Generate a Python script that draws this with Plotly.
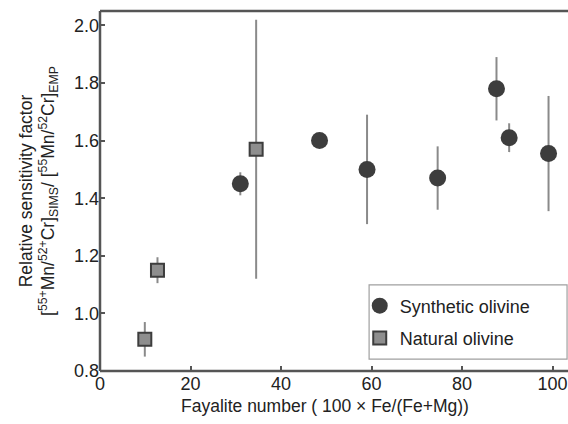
import plotly.graph_objects as go

# Synthetic olivine
syn_x = [31.0, 48.5, 59.0, 74.6, 87.6, 90.4, 99.1]
syn_y = [1.45, 1.60, 1.50, 1.47, 1.78, 1.61, 1.555]
syn_err = [0.04, 0.0, 0.19, 0.11, 0.11, 0.05, 0.20]

# Natural olivine
nat_x = [9.9, 12.7, 34.5]
nat_y = [0.91, 1.15, 1.57]
nat_err = [0.06, 0.045, 0.45]

x_ticks = [0, 20, 40, 60, 80, 100]
y_ticks = [0.8, 1.0, 1.2, 1.4, 1.6, 1.8, 2.0]

FONT = "Liberation Sans, Arial, Helvetica, sans-serif"
AX = "#555555"

fig = go.Figure()
fig.add_trace(go.Scatter(
    x=syn_x, y=syn_y, mode="markers", name="Synthetic olivine",
    legendgroup="a",
    marker=dict(symbol="circle", size=17, color="#3d3d3d", line=dict(width=0)),
    error_y=dict(type="data", array=syn_err, visible=True, color="#8a8a8a",
                 thickness=2, width=0),
))
fig.add_trace(go.Scatter(
    x=nat_x, y=nat_y, mode="markers", name="Natural olivine",
    legendgroup="b",
    marker=dict(symbol="square", size=13, color="#8e8e8e",
                line=dict(width=2, color="#3d3d3d")),
    error_y=dict(type="data", array=nat_err, visible=True, color="#8a8a8a",
                 thickness=2, width=0),
))

# mask for the cut-off right edge of the frame
fig.add_shape(type="rect", xref="paper", yref="paper",
              x0=0.993, x1=1.0, y0=0.25, y1=0.993,
              line=dict(width=0), fillcolor="white", layer="above")

# frame: left, bottom, top (the right side is cut off in the reference)
for x0, y0, x1, y1 in [(0, 0, 0, 1), (0, 0, 1, 0), (0, 1, 1, 1)]:
    fig.add_shape(type="line", xref="paper", yref="paper",
                  x0=x0, y0=y0, x1=x1, y1=y1,
                  line=dict(color=AX, width=2.5), layer="above")

# legend frame
fig.add_shape(type="rect", xref="paper", yref="paper",
              x0=0.575, x1=0.998, y0=0.033, y1=0.239,
              line=dict(color="#a0a0a0", width=1.2), fillcolor="white",
              layer="above")

# x-axis title
fig.add_annotation(text="Fayalite number ( 100 × Fe/(Fe+Mg))",
                   xref="paper", yref="paper", x=0.48, y=-0.097,
                   xanchor="center", yanchor="middle", showarrow=False,
                   font=dict(size=17.5))

fig.update_layout(
    width=568, height=424,
    margin=dict(l=100, r=0, t=11, b=53),
    paper_bgcolor="white", plot_bgcolor="white",
    font=dict(family=FONT, size=18, color="#222222"),
    showlegend=True,
    legend=dict(
        x=0.555, y=0.232, xanchor="left", yanchor="top",
        bgcolor="rgba(0,0,0,0)", borderwidth=0,
        font=dict(size=18), tracegroupgap=6, itemwidth=30,
        traceorder="grouped",
    ),
    xaxis=dict(
        range=[0, 103.4], tickvals=x_ticks, ticktext=[str(v) for v in x_ticks],
        showline=False,
        ticks="inside", ticklen=5, tickcolor=AX, tickwidth=1.5,
        tickfont=dict(size=18),
        showgrid=False, zeroline=False,
    ),
    yaxis=dict(
        range=[0.8, 2.05], tickvals=y_ticks, ticktext=[f"{v:.1f}" for v in y_ticks],
        showline=False,
        ticks="inside", ticklen=5, tickcolor=AX, tickwidth=1.5,
        tickfont=dict(size=18),
        showgrid=False, zeroline=False,
        title=dict(
            text="Relative sensitivity factor<br>[<sup>55+</sup>Mn/<sup>52+</sup>Cr]<sub>SIMS</sub>/ [<sup>55</sup>Mn/<sup>52</sup>Cr]<sub>EMP</sub>",
            standoff=14, font=dict(size=17.5)),
    ),
)

fig.write_html("out.html")
